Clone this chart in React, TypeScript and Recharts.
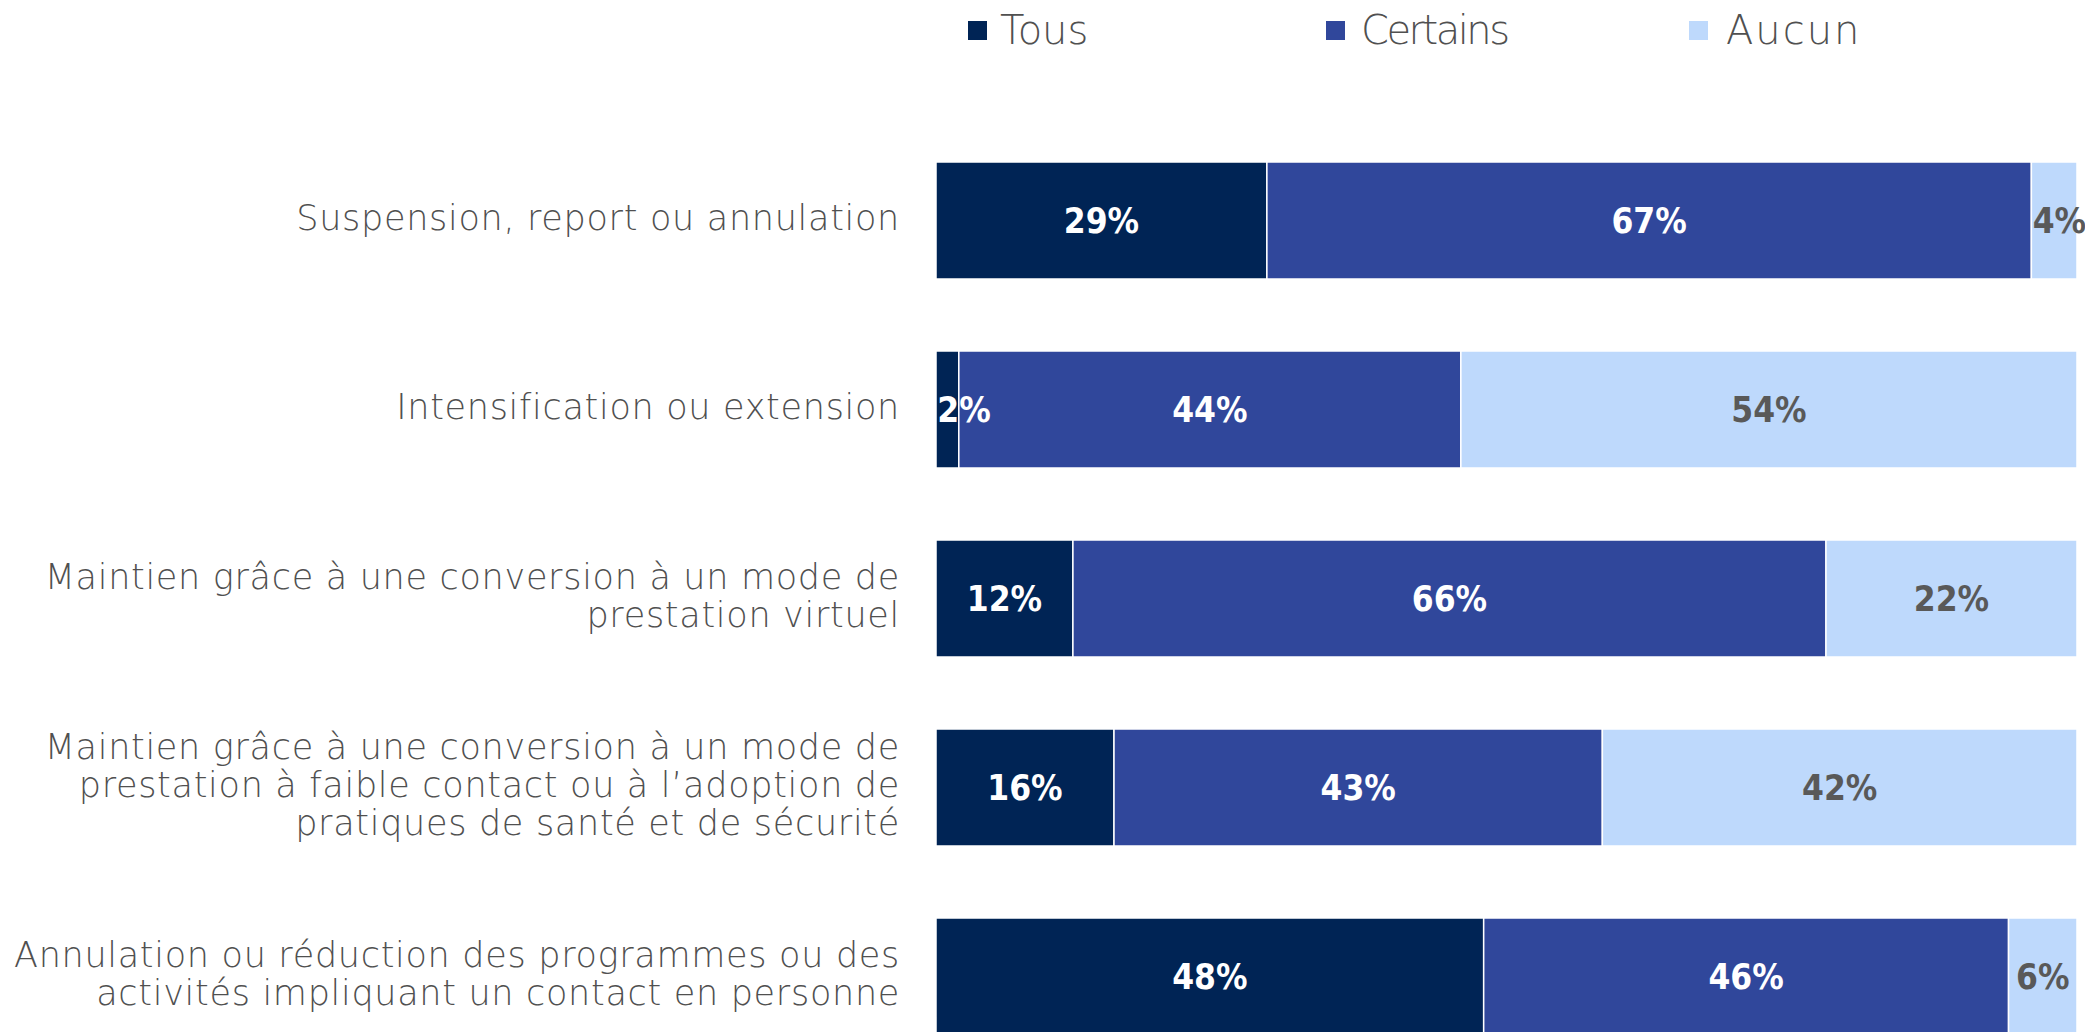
import { BarChart, Bar, XAxis, YAxis, LabelList } from "recharts";

// category labels, with the line breaks used in the reference
const CATEGORIES = [
  "Suspension, report ou annulation",
  "Intensification ou extension",
  "Maintien grâce à une conversion à un mode de\nprestation virtuel",
  "Maintien grâce à une conversion à un mode de\nprestation à faible contact ou à l’adoption de\npratiques de santé et de sécurité",
  "Annulation ou réduction des programmes ou des\nactivités impliquant un contact en personne",
];

const TOUS = [29, 2, 12, 15.6, 48];
const CERTAINS = [67, 44, 66, 42.8, 46];
const AUCUN = [4, 54, 22, 41.6, 6];

const SERIES = [
  { key: "tous", name: "Tous", color: "#002455", labelColor: "#ffffff" },
  { key: "certains", name: "Certains", color: "#30479b", labelColor: "#ffffff" },
  { key: "aucun", name: "Aucun", color: "#bed9fc", labelColor: "#595959" },
];

const data = CATEGORIES.map((name, i) => ({
  name,
  tous: TOUS[i],
  certains: CERTAINS[i],
  aucun: AUCUN[i],
}));

const TEXT_FONT = "'DejaVu Sans', 'Noto Sans', sans-serif";
const VALUE_FONT = "'DejaVu Sans Condensed', 'Liberation Sans Narrow', sans-serif";

const CHART_W = 2085;
const CHART_H = 1071;
const MARGIN = { top: 126, right: 8, bottom: 0, left: 0 };

// eslint-disable-next-line @typescript-eslint/no-explicit-any
function CategoryTick(props: any) {
  const { x, y, payload } = props;
  const lines = String(payload.value).split("\n");
  const lineHeight = 38;
  const startY = y - 3 - ((lines.length - 1) * lineHeight) / 2;
  return (
    <text
      x={x - 28}
      y={startY}
      textAnchor="end"
      dominantBaseline="central"
      fill="#505050"
      fontFamily={TEXT_FONT}
      fontWeight={200}
      fontSize={35}
      letterSpacing={0.7}
    >
      {lines.map((line, i) => (
        <tspan key={i} x={x - 28} y={startY + i * lineHeight}>
          {line}
        </tspan>
      ))}
    </text>
  );
}

// value label centred in its segment, but kept inside the bar on the left side
function makeValueLabel(color: string) {
  // eslint-disable-next-line @typescript-eslint/no-explicit-any
  return function ValueLabel(props: any) {
    const { x, y, width, height, value } = props;
    const cx = Math.max(x + width / 2, x + 28);
    return (
      <text
        x={cx}
        y={y + height / 2}
        textAnchor="middle"
        dominantBaseline="central"
        fill={color}
        fontFamily={VALUE_FONT}
        fontWeight={700}
        fontSize={35}
      >
        {`${Math.round(Number(value))}%`}
      </text>
    );
  };
}

function ChartLegend() {
  return (
    <div style={{ position: "absolute", top: 2, left: 968, height: 56, fontFamily: TEXT_FONT }}>
      {SERIES.map((s, i) => (
        <div
          key={s.key}
          style={{
            position: "absolute",
            left: [0, 358, 721][i],
            top: 0,
            display: "flex",
            alignItems: "center",
            whiteSpace: "nowrap",
          }}
        >
          <span style={{ width: 19, height: 19, background: s.color, display: "inline-block" }} />
          <span
            style={{
              marginLeft: [13, 16, 18][i],
              fontSize: 40,
              fontWeight: 200,
              color: "#505050",
              lineHeight: "56px",
              letterSpacing: [0, -2.5, 2][i],
            }}
          >
            {s.name}
          </span>
        </div>
      ))}
    </div>
  );
}

// the chart is drawn twice: bars below, value labels in an overlay on top,
// so a label wider than its segment is not covered by the next segment
function StackedChart({ labels }: { labels: boolean }) {
  return (
    <BarChart width={CHART_W} height={CHART_H} data={data} layout="vertical" margin={MARGIN}>
      <XAxis type="number" domain={[0, 100]} hide />
      <YAxis
        type="category"
        dataKey="name"
        width={936}
        axisLine={false}
        tickLine={false}
        tick={labels ? false : <CategoryTick />}
        interval={0}
      />
      {SERIES.map((s) => (
        <Bar
          key={s.key}
          dataKey={s.key}
          name={s.name}
          stackId="a"
          fill={labels ? "transparent" : s.color}
          stroke={labels ? "none" : "#ffffff"}
          strokeWidth={1.5}
          barSize={117}
          isAnimationActive={false}
        >
          {labels && <LabelList dataKey={s.key} content={makeValueLabel(s.labelColor)} />}
        </Bar>
      ))}
    </BarChart>
  );
}

export default function App() {
  return (
    <div
      style={{
        position: "absolute",
        left: 0,
        top: 0,
        width: 2085,
        height: 1032,
        overflow: "hidden",
        background: "#fff",
      }}
    >
      <ChartLegend />
      <div style={{ position: "absolute", left: 0, top: 0 }}>
        <StackedChart labels={false} />
      </div>
      <div style={{ position: "absolute", left: 0, top: 0 }}>
        <StackedChart labels />
      </div>
    </div>
  );
}
